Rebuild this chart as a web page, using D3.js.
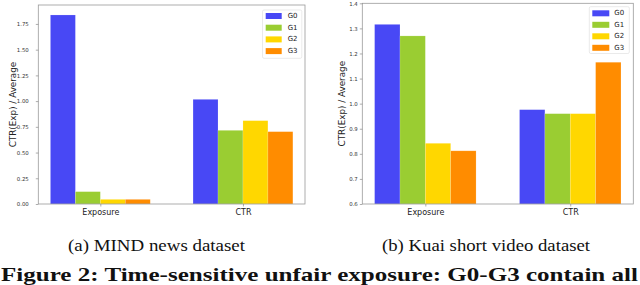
<!DOCTYPE html>
<html><head><meta charset="utf-8">
<script src="https://cdn.jsdelivr.net/npm/d3@7"></script>
<style>
body{margin:0;background:#fff;}
svg{display:block;}
</style></head>
<body>
<svg id="c" width="640" height="285"></svg>
<script>
const categories = ["Exposure", "CTR"];
const groups = ["G0", "G1", "G2", "G3"];
const colors = ["#4848f5", "#9acd32", "#ffd700", "#ff8c00"];
const mindValues = [
  [1.837, 1.017],
  [0.120, 0.716],
  [0.045, 0.810],
  [0.045, 0.703]
];
const kuaiValues = [
  [1.316, 0.976],
  [1.270, 0.960],
  [0.842, 0.960],
  [0.812, 1.165]
];
const mindTicks = [0, 0.25, 0.5, 0.75, 1.0, 1.25, 1.5, 1.75];
const kuaiTicks = [0.6, 0.7, 0.8, 0.9, 1.0, 1.1, 1.2, 1.3, 1.4];
const yTitle = "CTR(Exp) / Average";
const captions = ["(a)  MIND news dataset", "(b)  Kuai short video dataset"];
const figureCaption = "Figure 2: Time-sensitive unfair exposure: G0-G3 contain all";

const svg = d3.select("#c");
const font = "DejaVu Sans, sans-serif";
const barW = 0.175;

function panel(cfg) {
  const g = svg.append("g");
  const x = d3.scaleLinear().domain([-0.435, 1.435]).range([cfg.left, cfg.right]);
  const y = d3.scaleLinear().domain(cfg.ydom).range([cfg.bottom, cfg.top]);
  cfg.values.forEach((vals, gi) => {
    g.selectAll(null).data(vals).enter().append("rect")
      .attr("x", (d, ci) => x(ci + (gi - 1.5) * barW - barW / 2))
      .attr("width", x(barW) - x(0))
      .attr("y", d => y(d))
      .attr("height", d => y(cfg.ydom[0]) - y(d))
      .attr("fill", colors[gi])
      .attr("stroke", "#ffffff").attr("stroke-opacity", 0.25).attr("stroke-width", 0.6);
  });
  g.append("rect").attr("x", cfg.left).attr("y", cfg.top)
    .attr("width", cfg.right - cfg.left).attr("height", cfg.bottom - cfg.top)
    .attr("fill", "none").attr("stroke", "#9a9a9a").attr("stroke-width", 0.8);
  const ya = g.append("g").attr("transform", `translate(${cfg.left},0)`)
    .call(d3.axisLeft(y).tickValues(cfg.ticks).tickFormat(cfg.fmt).tickSize(2.5).tickPadding(cfg.tpad));
  ya.select(".domain").remove();
  ya.selectAll("line").attr("stroke", "#777").attr("stroke-width", 0.6);
  ya.selectAll("text").attr("font-family", font).attr("font-size", 5.4).attr("fill", "#333");
  const xa = g.append("g").attr("transform", `translate(0,${cfg.bottom})`)
    .call(d3.axisBottom(x).tickValues([0, 1]).tickFormat((d, i) => categories[i]).tickSize(2.5).tickPadding(2.5));
  xa.select(".domain").remove();
  xa.selectAll("line").attr("stroke", "#777").attr("stroke-width", 0.6);
  xa.selectAll("text").attr("font-family", font).attr("font-size", 8).attr("fill", "#222");
  g.append("text").attr("transform", `translate(${cfg.ytx},${(cfg.top + cfg.bottom) / 2}) rotate(-90)`)
    .attr("text-anchor", "middle").attr("dominant-baseline", "central")
    .attr("font-family", font).attr("font-size", 8.8).attr("fill", "#222").text(yTitle);
  const L = cfg.legend;
  g.append("rect").attr("x", L.x0).attr("y", L.y0).attr("width", L.x1 - L.x0).attr("height", L.y1 - L.y0)
    .attr("rx", 1.5).attr("fill", "#fff").attr("fill-opacity", 0.85).attr("stroke", "#dcdcdc").attr("stroke-width", 0.6);
  groups.forEach((name, i) => {
    const cy = L.rowY + i * L.dy;
    g.append("rect").attr("x", L.px).attr("y", cy - 3).attr("width", L.pw).attr("height", 6).attr("fill", colors[i]);
    g.append("text").attr("x", L.tx).attr("y", cy).attr("dominant-baseline", "central")
      .attr("font-family", font).attr("font-size", 7).attr("fill", "#222").text(name);
  });
  svg.append("text").attr("x", cfg.capX).attr("y", 251).attr("font-family", "Liberation Serif, serif")
    .attr("font-size", 16.5).attr("fill", "#111").attr("textLength", cfg.capW).attr("lengthAdjust", "spacingAndGlyphs")
    .text(cfg.caption);
}

panel({
  left: 38.3, right: 305, top: 5, bottom: 204, ydom: [0, 1.934],
  values: mindValues, ticks: mindTicks, fmt: d3.format(".2f"), tpad: 7,
  ytx: 13.3,
  legend: {x0: 262.5, x1: 301.8, y0: 10, y1: 58.3, px: 265.7, pw: 16, tx: 287.7, rowY: 16, dy: 11.7},
  caption: captions[0], capX: 68, capW: 177
});
panel({
  left: 362.3, right: 633.3, top: 3.3, bottom: 204, ydom: [0.6, 1.4],
  values: kuaiValues, ticks: kuaiTicks, fmt: d3.format(".1f"), tpad: 2,
  ytx: 341.7,
  legend: {x0: 589.3, x1: 629.3, y0: 6.7, y1: 53.5, px: 592.3, pw: 17, tx: 614.3, rowY: 13.3, dy: 11.5},
  caption: captions[1], capX: 382, capW: 208
});

svg.append("text").attr("x", 1).attr("y", 280.5).attr("font-family", "Liberation Serif, serif")
  .attr("font-weight", "bold").attr("font-size", 19).attr("fill", "#111")
  .attr("textLength", 637).attr("lengthAdjust", "spacingAndGlyphs").text(figureCaption);
</script>
</body></html>
